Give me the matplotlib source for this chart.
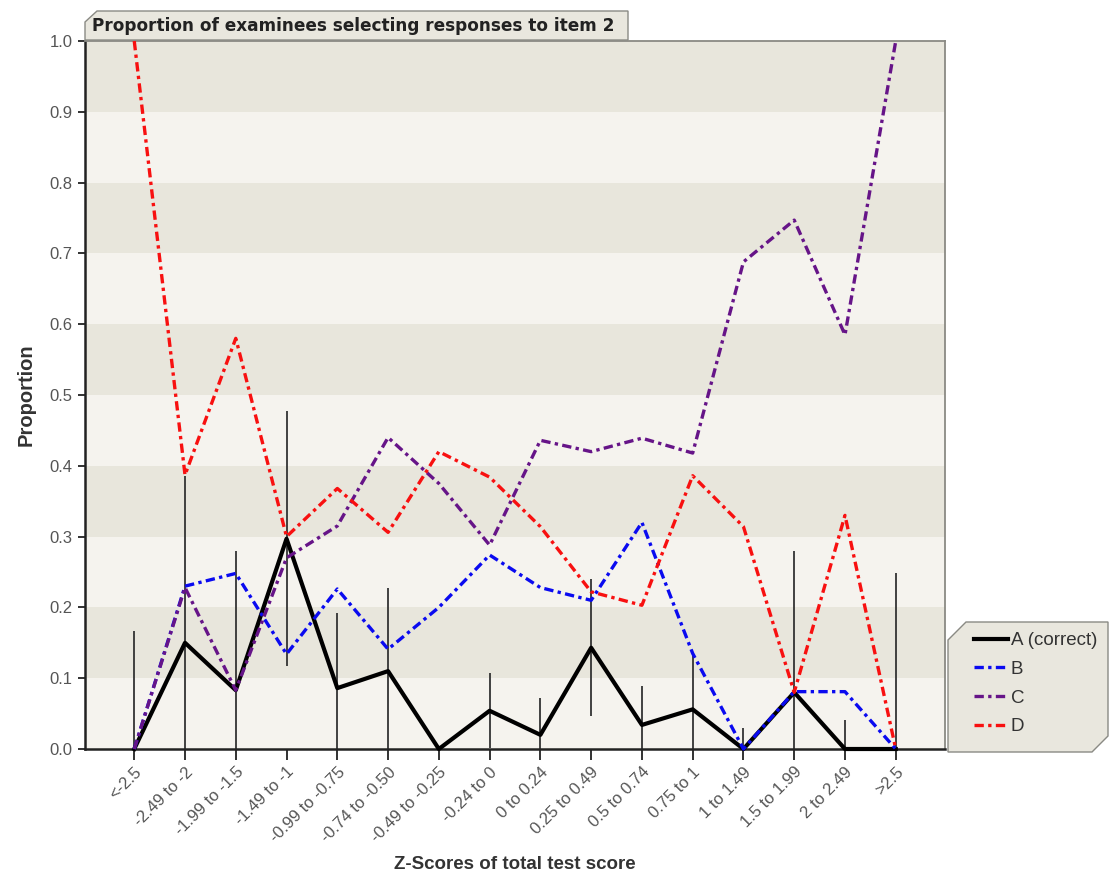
import matplotlib.pyplot as plt
import numpy as np
from matplotlib.patches import Polygon
from matplotlib.lines import Line2D

# score groups on the x axis
groups = ["<-2.5", "-2.49 to -2", "-1.99 to -1.5", "-1.49 to -1", "-0.99 to -0.75",
          "-0.74 to -0.50", "-0.49 to -0.25", "-0.24 to 0", "0 to 0.24", "0.25 to 0.49",
          "0.5 to 0.74", "0.75 to 1", "1 to 1.49", "1.5 to 1.99", "2 to 2.49", ">2.5"]

# proportion choosing each option
prop_a = [0.0, 0.15, 0.083, 0.297, 0.086, 0.11, 0.0, 0.054, 0.02, 0.143, 0.034, 0.056, 0.0, 0.08, 0.0, 0.0]
prop_b = [0.0, 0.23, 0.248, 0.134, 0.226, 0.141, 0.2, 0.274, 0.228, 0.21, 0.32, 0.135, 0.0, 0.081, 0.081, 0.0]
prop_c = [0.0, 0.228, 0.083, 0.27, 0.315, 0.44, 0.375, 0.288, 0.436, 0.42, 0.439, 0.418, 0.688, 0.747, 0.585, 1.0]
prop_d = [1.0, 0.387, 0.58, 0.3, 0.368, 0.306, 0.42, 0.384, 0.314, 0.222, 0.203, 0.386, 0.314, 0.08, 0.33, 0.0]

# error bar half-widths around option A
err_a = [0.167, 0.235, 0.197, 0.18, 0.106, 0.117, 0.0, 0.053, 0.052, 0.097, 0.055, 0.08, 0.03, 0.2, 0.041, 0.249]

W, H = 1113, 884
fig = plt.figure(figsize=(W / 100, H / 100), dpi=100)
fig.patch.set_facecolor("white")

def fx(px):
    return px / W

def fy(py):
    return 1 - py / H

ax = fig.add_axes([fx(85), fy(749), fx(945) - fx(85), fy(41) - fy(749)])
ax.set_facecolor("#f5f3ee")
x = np.arange(len(groups))

# alternating horizontal bands
for i in range(10):
    if i % 2 == 1:
        ax.axhspan(i / 10, (i + 1) / 10, color="#e8e6dc", zorder=0, lw=0)

a = np.array(prop_a)
e = np.array(err_a)
ax.vlines(x, np.clip(a - e, 0, None), a + e, color="#333333", lw=1.3, zorder=2)

dashdot = (0, (2.8, 1.3, 1.0, 1.3))
ax.plot(x, prop_a, color="black", lw=3.0, zorder=3, clip_on=False)
ax.plot(x, prop_b, color="#0a0af0", lw=2.4, ls=dashdot, zorder=3, clip_on=False)
ax.plot(x, prop_c, color="#661488", lw=2.4, ls=dashdot, zorder=3, clip_on=False)
ax.plot(x, prop_d, color="#f81010", lw=2.4, ls=dashdot, zorder=3, clip_on=False)

ax.set_xlim(-0.97, 15.97)
ax.set_ylim(0, 1.0)
ax.set_yticks(np.arange(0, 1.01, 0.1))
ax.set_yticklabels([f"{v:.1f}" for v in np.arange(0, 1.01, 0.1)])
ax.set_xticks(x)
ax.set_xticklabels(groups, rotation=45, ha="right", rotation_mode="anchor")
ax.tick_params(axis="y", length=5, width=1.3, color="#222", labelsize=12,
               labelcolor="#555", pad=4)
ax.tick_params(axis="x", length=8, width=1.3, color="#222", labelsize=12,
               labelcolor="#555", pad=3)
for lab in ax.get_xticklabels() + ax.get_yticklabels():
    lab.set_fontfamily("Liberation Sans")

for s in ["left", "bottom"]:
    ax.spines[s].set_color("#222")
    ax.spines[s].set_linewidth(1.8)
for s in ["top", "right"]:
    ax.spines[s].set_color("#8a8a84")
    ax.spines[s].set_linewidth(1.3)

ax.set_xlabel("Z-Scores of total test score", fontfamily="Liberation Sans",
              fontweight="bold", fontsize=13.5, color="#333", labelpad=8)
ax.set_ylabel("Proportion", fontfamily="Liberation Sans",
              fontweight="bold", fontsize=14.5, color="#333", labelpad=10)

# title tab with a clipped corner
tab = [(85, 40), (85, 22), (97, 11), (628, 11), (628, 40)]
fig.add_artist(Polygon([(fx(px), fy(py)) for px, py in tab], closed=True,
                       facecolor="#e9e7de", edgecolor="#8a8a84", lw=1.0,
                       transform=fig.transFigure, zorder=5))
fig.text(fx(92), fy(26), "Proportion of examinees selecting responses to item 2",
         fontfamily="DejaVu Sans", fontweight="bold", fontsize=12.2, color="#222",
         va="center", ha="left", zorder=6)

# legend panel
panel = [(948, 752), (948, 640), (966, 622), (1108, 622), (1108, 736), (1092, 752)]
fig.add_artist(Polygon([(fx(px), fy(py)) for px, py in panel], closed=True,
                       facecolor="#e9e7de", edgecolor="#8a8a84", lw=1.0,
                       transform=fig.transFigure, zorder=5))
handles = [
    Line2D([], [], color="black", lw=3.0),
    Line2D([], [], color="#0a0af0", lw=2.4, ls=dashdot),
    Line2D([], [], color="#661488", lw=2.4, ls=dashdot),
    Line2D([], [], color="#f81010", lw=2.4, ls=dashdot),
]
leg = fig.legend(handles, ["A (correct)", "B", "C", "D"], loc="upper left",
                 bbox_to_anchor=(fx(974), fy(632)), frameon=False,
                 handlelength=1.8, handletextpad=0.15, labelspacing=0.62,
                 borderaxespad=0, borderpad=0,
                 prop={"family": "Liberation Sans", "size": 13.5})
leg.set_zorder(7)
for t in leg.get_texts():
    t.set_color("#333")

fig.savefig("out.png", dpi=100)
